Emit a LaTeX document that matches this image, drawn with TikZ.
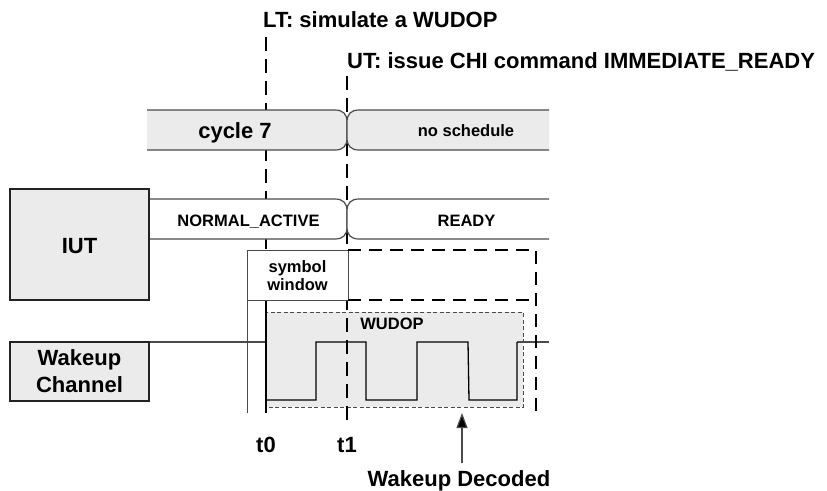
\documentclass[tikz,border=0pt]{standalone}
\usepackage{fontspec}
\setmainfont{Liberation Sans}
\usetikzlibrary{arrows.meta}
\definecolor{fillgray}{HTML}{EBEBEB}
\definecolor{linegray}{HTML}{4A4A4A}
\definecolor{boxline}{HTML}{222222}
\newcommand\bigtxt{\fontsize{22}{26}\selectfont\bfseries}
\newcommand\smalltxt{\fontsize{16.5}{18}\selectfont\bfseries}
\tikzset{
  bandline/.style={draw=linegray, line width=1.2pt},
  bigl/.style={inner sep=0pt, anchor=base, font=\bigtxt},
  smalll/.style={inner sep=0pt, anchor=base, font=\smalltxt},
  mainbox/.style={draw=boxline, line width=1.6pt, fill=fillgray},
  timeline/.style={draw=black, line width=2pt, dash pattern=on 14pt off 8pt},
  winbox/.style={draw=black, line width=2pt, dash pattern=on 13pt off 8pt},
  thinline/.style={draw=linegray, line width=1pt},
  sigline/.style={draw=black, line width=1.3pt},
}
\begin{document}
\begin{tikzpicture}[x=1pt,y=-1pt]
\useasboundingbox (0,0) rectangle (827,490);

% --- WUDOP area ---
\draw[draw=linegray, line width=0.9pt, dash pattern=on 4pt off 2.5pt, fill=fillgray] (266,312) rectangle (523,407);
\node[smalll] (wud) at (392,329) {WUDOP};

% --- wakeup signal ---
\coordinate (wkout) at (149,342);
\coordinate (sigend) at (549,342);
\draw[draw=linegray, line width=1.2pt] (wkout) -- (266,342);
\draw[draw=linegray, line width=1.2pt] (517,342) -- (sigend);
\draw[sigline] (266,342) -- (266,400) -- (316,400) -- (316,342) -- (366,342) -- (366,400) -- (417,400) -- (417,342) -- (468,342) -- (469,400) -- (517,400) -- (517,342);

% --- time lines ---
\draw[timeline] (266,37) -- (266,300);
\draw[draw=black, line width=2pt] (266,300) -- (266,413);
\draw[timeline] (347,76) -- (347,424);

% --- top band: cycle 7 / no schedule ---
\fill[fillgray] (147,110) -- (335,110) .. controls (343,110) and (347,114) .. (347,122) -- (347,138) .. controls (347,146) and (343,150) .. (335,150) -- (147,150) -- cycle;
\draw[bandline] (147,110) -- (335,110) .. controls (343,110) and (347,114) .. (347,122) -- (347,138) .. controls (347,146) and (343,150) .. (335,150) -- (147,150);
\fill[fillgray] (549,110) -- (359,110) .. controls (351,110) and (347,114) .. (347,122) -- (347,138) .. controls (347,146) and (351,150) .. (359,150) -- (549,150) -- cycle;
\draw[bandline] (549,110) -- (359,110) .. controls (351,110) and (347,114) .. (347,122) -- (347,138) .. controls (347,146) and (351,150) .. (359,150) -- (549,150);
\node[bigl] (cyc) at (235,138) {cycle 7};
\node[smalll] (nos) at (466,136) {no schedule};

% --- state band: NORMAL_ACTIVE / READY ---
\fill[white] (149,199) -- (335,199) .. controls (343,199) and (347,203) .. (347,211) -- (347,227) .. controls (347,235) and (343,239) .. (335,239) -- (149,239) -- cycle;
\draw[bandline] (149,199) -- (335,199) .. controls (343,199) and (347,203) .. (347,211) -- (347,227) .. controls (347,235) and (343,239) .. (335,239) -- (149,239);
\fill[white] (549,199) -- (359,199) .. controls (351,199) and (347,203) .. (347,211) -- (347,227) .. controls (347,235) and (351,239) .. (359,239) -- (549,239) -- cycle;
\draw[bandline] (549,199) -- (359,199) .. controls (351,199) and (347,203) .. (347,211) -- (347,227) .. controls (347,235) and (351,239) .. (359,239) -- (549,239);
\node[smalll] (na) at (248.5,226) {NORMAL\_ACTIVE};
\node[smalll] (rdy) at (466.5,226) {READY};

% --- IUT and Wakeup Channel boxes ---
\draw[mainbox] (10,189) rectangle (149,300);
\node[bigl] (iut) at (79.5,253) {IUT};
\draw[mainbox] (10,342) rectangle (149,401);
\node[bigl] (wk1) at (79.5,365) {Wakeup};
\node[bigl] (wk2) at (79.5,392) {Channel};

% --- symbol window ---
\draw[thinline, fill=white] (247,250) rectangle (348,300);
\draw[thinline] (247,300) -- (247,413);
\node[smalll] (sym1) at (297.5,272) {symbol};
\node[smalll] (sym2) at (297.5,290) {window};

% dashed window
\draw[winbox] (348,250) -- (536,250) -- (536,413);
\draw[winbox] (348,300) -- (536,300);

% --- labels ---
\node[bigl, anchor=base west] (lt) at (263,27) {LT: simulate a WUDOP};
\node[bigl, anchor=base west] (ut) at (347,68) {UT: issue CHI command IMMEDIATE\_READY};
\node[bigl] (t0) at (266,452) {t0};
\node[bigl] (t1) at (347,452) {t1};

% --- Wakeup Decoded arrow ---
\node[bigl] (dec) at (459,486) {Wakeup Decoded};
\coordinate (decfoot) at (462,463);
\coordinate (dectip) at (462,413);
\draw[draw=linegray, line width=1.2pt, -{Triangle[length=15pt,width=11pt,fill=black]}] (decfoot) -- (dectip);
\end{tikzpicture}
\end{document}
